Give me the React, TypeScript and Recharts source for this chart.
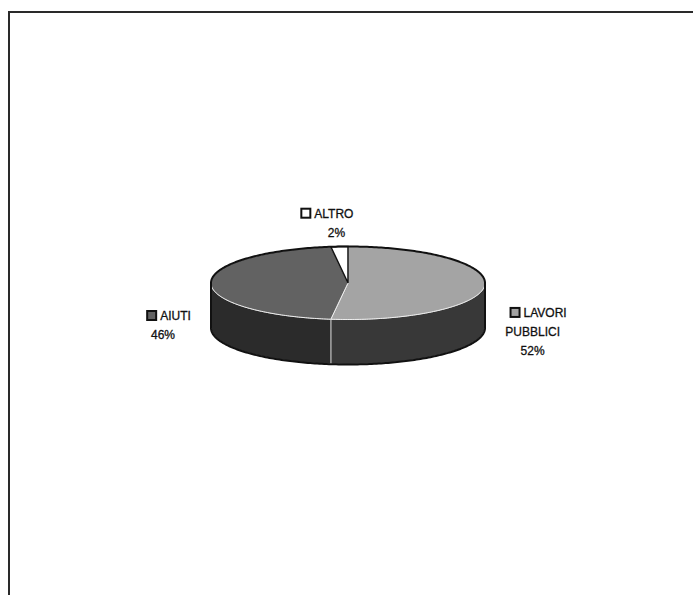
import React from 'react';
import { PieChart, Pie } from 'recharts';

const sliceNames = ['LAVORI PUBBLICI', 'AIUTI', 'ALTRO'];
const sliceValues = [52, 46, 2];
const labelLines = [['LAVORI', 'PUBBLICI'], ['AIUTI'], ['ALTRO']];

const topColors = ['#a4a4a4', '#626262', '#ffffff'];
const sideColors = ['#383838', '#2b2b2b', '#ffffff'];

const chartData = sliceNames.map((name, i) => ({ name, value: sliceValues[i] }));

const W = 693;
const H = 595;
const CX = 348;
const CY = 283;
const RX = 137;
const RY = 36.5;
const DEPTH = 45;
const RAD = Math.PI / 180;
const FONT = '"Liberation Sans", Arial, sans-serif';

let ctx: CanvasRenderingContext2D | null = null;
const textWidth = (s: string) => {
    if (!ctx) ctx = document.createElement('canvas').getContext('2d');
    if (!ctx) return s.length * 7;
    ctx.font = `12px ${FONT}`;
    return ctx.measureText(s).width;
};

const pt = (cx: number, cy: number, a: number, dy = 0) =>
    `${(cx + RX * Math.cos(a * RAD)).toFixed(2)},${(cy - RY * Math.sin(a * RAD) + dy).toFixed(2)}`;

// points along the ellipse rim, from angle `from` to `to`
const arc = (cx: number, cy: number, from: number, to: number, dy = 0) => {
    const n = Math.max(2, Math.ceil(Math.abs(to - from)));
    const out: string[] = [];
    for (let k = 0; k <= n; k++) out.push(pt(cx, cy, from + ((to - from) * k) / n, dy));
    return out;
};

const renderSlice = (props: any) => {
    const { cx, cy, startAngle, endAngle, midAngle, index, value } = props;
    const s = Math.max(startAngle, endAngle);
    const e = Math.min(startAngle, endAngle);

    // front part of the side wall: angles in (-180, 0) modulo 360
    const sides: [number, number][] = [];
    for (let k = -2; k <= 1; k++) {
        const lo = Math.max(e, -180 + 360 * k);
        const hi = Math.min(s, 360 * k);
        if (hi > lo) sides.push([lo, hi]);
    }

    const top = `M${cx},${cy} L${arc(cx, cy, s, e).join(' L')} Z`;
    const isAltro = index === 2;

    // label block
    const c = Math.cos(midAngle * RAD);
    const lx = cx + (RX + 48) * c;
    const ly = cy + 42 - (RY + 66) * Math.sin(midAngle * RAD);
    const lines = [...labelLines[index], `${value}%`];
    const n = lines.length;
    const lineY = (i: number) => ly + (i - (n - 1) / 2) * 19;
    const w0 = textWidth(lines[0]);
    const shift1 = 6 * Math.abs(c) - 10 * (1 - Math.abs(c));
    const startX = lx + shift1 - (w0 + 13) / 2;

    return (
        <g key={`slice-${index}`}>
            {sides.map(([lo, hi], j) => (
                <path
                    key={j}
                    d={`M${arc(cx, cy, lo, hi).join(' L')} L${arc(cx, cy, hi, lo, DEPTH).join(' L')} Z`}
                    fill={sideColors[index]}
                    stroke="#d8d8d8"
                    strokeWidth={0.8}
                />
            ))}
            <path
                d={top}
                fill={topColors[index]}
                stroke={isAltro ? '#111' : '#eeeeee'}
                strokeWidth={isAltro ? 1.5 : 1}
            />
            {index === sliceValues.length - 1 && (
                <path
                    d={`M${arc(cx, cy, 0, 180).join(' L')} L${arc(cx, cy, 180, 360, DEPTH).join(' L')} Z`}
                    fill="none"
                    stroke="#111"
                    strokeWidth={2}
                />
            )}
            <rect
                x={startX}
                y={lineY(0) - 4.5}
                width={9}
                height={9}
                fill={topColors[index]}
                stroke="#111"
                strokeWidth={2}
            />
            {lines.map((t, i) => (
                <text
                    key={i}
                    x={i === 0 ? startX + 13 : lx}
                    y={lineY(i) + 4.5}
                    textAnchor={i === 0 ? 'start' : 'middle'}
                    fontFamily={FONT}
                    fontSize={12}
                    fill="#111"
                    stroke="#111"
                    strokeWidth={0.3}
                >
                    {t}
                </text>
            ))}
        </g>
    );
};

export default function App() {
    return (
        <div style={{ position: 'absolute', left: 0, top: 0, width: W, height: H, background: '#fff' }}>
            <div
                style={{
                    position: 'absolute',
                    left: 8,
                    top: 11,
                    width: W - 8,
                    height: H - 11,
                    borderTop: '2px solid #2a2a2a',
                    borderLeft: '2px solid #2a2a2a',
                    boxSizing: 'border-box',
                }}
            />
            <div style={{ position: 'absolute', left: 0, top: 0 }}>
                <PieChart width={W} height={H} margin={{ top: 0, right: 0, bottom: 0, left: 0 }}>
                    <Pie
                        data={chartData}
                        dataKey="value"
                        nameKey="name"
                        cx={CX}
                        cy={CY}
                        outerRadius={RX}
                        startAngle={90}
                        endAngle={-270}
                        fill="none"
                        stroke="none"
                        label={renderSlice}
                        labelLine={false}
                        isAnimationActive={false}
                    />
                </PieChart>
            </div>
        </div>
    );
}
